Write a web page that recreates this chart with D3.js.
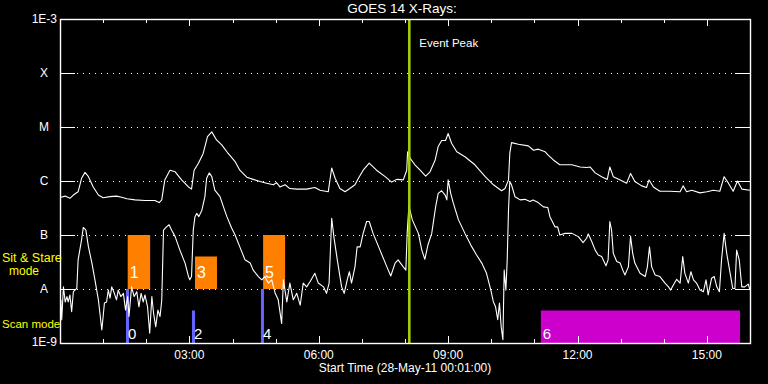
<!DOCTYPE html>
<html>
<head>
<meta charset="utf-8">
<script src="https://cdn.jsdelivr.net/npm/d3@7"></script>
<style>
  html, body { margin: 0; padding: 0; background: #000; }
  svg { display: block; }
  text { font-family: "Liberation Sans", Arial, sans-serif; fill: #fff; }
</style>
</head>
<body>
<div id="chart"></div>
<script>
// hours since 00:01 UT, log10 of flux (W/m^2)
var longHours = [0.02,0.12,0.23,0.31,0.42,0.50,0.58,0.66,0.77,0.89,1.00,1.16,1.31,1.43,1.55,1.74,1.97,2.20,2.30,2.36,2.43,2.55,2.67,2.82,2.98,3.05,3.11,3.21,3.32,3.42,3.52,3.63,3.75,3.90,4.06,4.17,4.33,4.48,4.64,4.79,4.95,5.02,5.10,5.22,5.33,5.49,5.72,5.91,6.03,6.22,6.30,6.38,6.49,6.61,6.72,6.84,6.92,7.03,7.17,7.34,7.54,7.69,7.81,7.96,8.04,8.06,8.12,8.23,8.35,8.48,8.58,8.70,8.77,8.85,8.94,9.00,9.08,9.20,9.39,9.62,9.86,10.05,10.24,10.32,10.40,10.43,10.47,10.63,10.86,10.98,11.09,11.25,11.32,11.44,11.59,11.87,12.06,12.21,12.29,12.41,12.56,12.69,12.75,12.83,12.99,13.14,13.23,13.33,13.49,13.60,13.66,13.76,13.91,14.14,14.38,14.45,14.53,14.65,14.84,15.00,15.15,15.30,15.40,15.50,15.61,15.71,15.81,16.00];
var longLogFlux = [-6.30,-6.28,-6.32,-6.26,-6.20,-5.95,-5.84,-5.92,-6.11,-6.26,-6.31,-6.29,-6.28,-6.30,-6.33,-6.35,-6.36,-6.36,-6.40,-6.35,-5.98,-5.80,-5.83,-5.98,-6.11,-6.15,-5.80,-5.67,-5.49,-5.18,-5.09,-5.24,-5.33,-5.49,-5.64,-5.80,-5.93,-5.97,-6.01,-6.04,-6.07,-6.03,-6.11,-6.07,-6.14,-6.15,-6.15,-6.12,-6.17,-6.20,-5.76,-5.95,-6.14,-6.20,-6.14,-6.07,-5.95,-5.80,-5.67,-5.80,-5.92,-6.02,-5.97,-5.98,-5.80,-5.46,-5.58,-5.70,-5.80,-5.91,-5.83,-5.61,-5.36,-5.25,-5.25,-5.12,-5.30,-5.46,-5.55,-5.70,-5.92,-6.07,-6.18,-6.14,-5.98,-5.49,-5.29,-5.32,-5.35,-5.43,-5.41,-5.46,-5.52,-5.61,-5.70,-5.70,-5.74,-5.75,-5.74,-5.85,-5.92,-5.97,-5.74,-5.92,-5.98,-6.04,-5.86,-6.01,-6.09,-6.12,-5.98,-6.11,-6.19,-6.19,-6.20,-6.09,-6.20,-6.17,-6.22,-6.20,-6.17,-6.19,-5.92,-6.04,-6.19,-6.00,-6.15,-6.17];

var shortHours = [0.02,0.04,0.08,0.12,0.16,0.19,0.23,0.27,0.31,0.39,0.42,0.50,0.54,0.60,0.66,0.74,0.81,0.89,0.97,1.03,1.08,1.12,1.16,1.20,1.26,1.31,1.35,1.41,1.47,1.52,1.57,1.60,1.66,1.72,1.78,1.83,1.88,1.93,1.97,2.03,2.08,2.13,2.17,2.22,2.27,2.32,2.36,2.40,2.47,2.53,2.59,2.67,2.78,2.90,2.98,3.01,3.05,3.09,3.13,3.17,3.22,3.29,3.36,3.40,3.46,3.52,3.59,3.71,3.79,3.87,3.98,4.06,4.17,4.29,4.41,4.48,4.60,4.68,4.75,4.83,4.91,4.99,5.06,5.14,5.18,5.26,5.33,5.41,5.49,5.57,5.64,5.72,5.80,5.91,5.99,6.11,6.18,6.24,6.30,6.35,6.43,6.53,6.59,6.66,6.71,6.76,6.84,6.89,6.96,7.03,7.11,7.17,7.26,7.42,7.58,7.67,7.77,7.84,7.96,8.02,8.05,8.09,8.17,8.31,8.39,8.46,8.53,8.62,8.71,8.77,8.85,8.93,8.97,9.00,9.06,9.12,9.24,9.39,9.55,9.66,9.78,9.89,9.99,10.05,10.10,10.15,10.19,10.23,10.27,10.30,10.34,10.37,10.40,10.43,10.47,10.55,10.67,10.78,10.90,10.97,11.09,11.21,11.31,11.36,11.48,11.54,11.59,11.71,11.87,12.02,12.13,12.21,12.25,12.33,12.41,12.48,12.56,12.66,12.71,12.75,12.79,12.83,12.91,12.99,13.05,13.10,13.18,13.23,13.28,13.33,13.45,13.57,13.62,13.67,13.72,13.80,13.91,14.03,14.11,14.16,14.22,14.30,14.38,14.44,14.49,14.57,14.63,14.69,14.76,14.84,14.92,14.98,15.03,15.11,15.17,15.23,15.29,15.34,15.40,15.46,15.54,15.60,15.65,15.69,15.75,15.81,15.88,15.96,16.00];
var shortLogFlux = [-8.20,-8.57,-7.96,-8.24,-8.14,-8.24,-8.11,-8.42,-8.05,-7.99,-7.46,-7.09,-6.86,-6.91,-7.22,-7.52,-7.83,-8.20,-8.76,-8.26,-8.24,-8.02,-8.17,-7.96,-8.08,-8.20,-8.02,-8.14,-8.08,-8.39,-8.14,-8.51,-7.96,-8.14,-8.05,-8.33,-8.08,-8.24,-8.11,-8.33,-8.82,-8.14,-8.45,-8.70,-8.39,-8.51,-8.20,-6.91,-6.85,-6.81,-6.91,-7.03,-7.28,-7.52,-7.77,-7.83,-7.77,-6.91,-6.66,-6.60,-6.66,-6.54,-6.29,-5.95,-5.85,-5.92,-6.17,-6.29,-6.48,-6.66,-6.87,-7.00,-7.22,-7.46,-7.52,-7.65,-7.77,-7.83,-7.77,-7.89,-7.83,-8.08,-8.20,-8.64,-7.83,-8.24,-7.89,-8.20,-8.08,-8.30,-7.89,-7.96,-7.86,-7.71,-7.89,-7.96,-8.08,-7.89,-6.69,-7.03,-7.46,-7.96,-8.08,-7.83,-7.68,-7.89,-7.59,-7.22,-7.22,-6.97,-6.75,-6.75,-6.97,-7.28,-7.59,-7.76,-7.52,-7.46,-7.59,-7.65,-6.97,-6.46,-6.72,-6.97,-7.28,-7.45,-7.19,-6.97,-6.48,-6.23,-6.18,-6.26,-6.35,-5.98,-6.23,-6.41,-6.72,-6.97,-7.22,-7.37,-7.52,-7.71,-8.02,-8.24,-8.33,-8.57,-8.26,-8.70,-8.94,-7.65,-8.02,-7.46,-6.54,-6.01,-6.07,-6.29,-6.35,-6.34,-6.38,-6.35,-6.40,-6.48,-6.49,-6.66,-6.85,-6.85,-7.00,-6.97,-6.97,-7.03,-7.14,-7.06,-6.98,-7.12,-7.28,-7.37,-7.40,-7.57,-7.46,-6.75,-6.91,-7.34,-7.49,-7.52,-7.65,-7.74,-7.59,-7.02,-7.34,-7.52,-7.71,-7.77,-7.59,-7.22,-7.59,-7.74,-7.77,-7.89,-7.96,-8.02,-7.93,-7.82,-7.89,-7.40,-7.71,-7.89,-7.68,-7.83,-7.89,-8.02,-8.05,-7.83,-8.11,-7.80,-7.77,-7.96,-8.05,-7.46,-6.97,-7.34,-7.71,-7.99,-7.99,-7.28,-7.46,-7.96,-7.96,-7.91,-8.02];

// observation blocks
var stareStart = [1.57, 3.13, 4.71];
var stareEnd   = [2.09, 3.64, 5.22];
var stareTop   = [1e-7, 4e-8, 1e-7];
var stareNames = ["1", "3", "5"];

var scanStart = [1.53, 3.06, 4.66, 11.15];
var scanEnd   = [1.60, 3.13, 4.73, 15.77];
var scanTop   = [1e-8, 4e-9, 1e-8, 4e-9];
var scanNames = ["0", "2", "4", "6"];

var eventPeak = 8.10;

var levelNames = ["X", "M", "C", "B", "A"];
var levelFlux  = [1e-4, 1e-5, 1e-6, 1e-7, 1e-8];
var tickHours  = [3, 6, 9, 12, 15];
var tickNames  = ["03:00", "06:00", "09:00", "12:00", "15:00"];

function drawChart(selector){

    var width = 768, height = 384;
    var plotLeft = 60, plotRight = 750, plotTop = 19, plotBottom = 343;

    var svg = d3.select(selector).append("svg")
        .attr("width", width)
        .attr("height", height)
        .style("background", "#000");

    var x = d3.scaleLinear().domain([0, 16]).range([plotLeft, plotRight]);
    var y = d3.scaleLog().domain([1e-9, 1e-3]).range([plotBottom, plotTop]);

    // dotted level lines with short solid ends
    var grid = svg.append("g");
    levelFlux.forEach(function(f){
        var yy = Math.round(y(f)) + 0.5;
        grid.append("line")
            .attr("x1", plotLeft + 17).attr("x2", plotRight - 15)
            .attr("y1", yy).attr("y2", yy)
            .attr("stroke", "#fff").attr("stroke-width", 1)
            .attr("stroke-dasharray", "1,5");
        grid.append("line")
            .attr("x1", plotLeft).attr("x2", plotLeft + 15)
            .attr("y1", yy).attr("y2", yy)
            .attr("stroke", "#fff");
        grid.append("line")
            .attr("x1", plotRight - 15).attr("x2", plotRight)
            .attr("y1", yy).attr("y2", yy)
            .attr("stroke", "#fff");
    });

    // sit & stare blocks
    svg.selectAll(".stare")
        .data(stareStart).enter().append("rect")
        .attr("class", "stare")
        .attr("x", function(d){ return x(d); })
        .attr("width", function(d, i){ return x(stareEnd[i]) - x(d); })
        .attr("y", function(d, i){ return y(stareTop[i]); })
        .attr("height", function(d, i){ return y(1e-8) - y(stareTop[i]); })
        .attr("fill", "#ff8000");

    // scan blocks
    var scanColor = d3.scaleOrdinal().domain(scanNames).range(["#6464ff", "#6464ff", "#6464ff", "#cc00cc"]);
    svg.selectAll(".scan")
        .data(scanStart).enter().append("rect")
        .attr("class", "scan")
        .attr("x", function(d){ return x(d); })
        .attr("width", function(d, i){ return x(scanEnd[i]) - x(d); })
        .attr("y", function(d, i){ return y(scanTop[i]); })
        .attr("height", function(d, i){ return y(1e-9) - y(scanTop[i]); })
        .attr("fill", function(d, i){ return scanColor(scanNames[i]); });

    // light curves
    var line = d3.line()
        .x(function(d){ return x(d[0]); })
        .y(function(d){ return y(Math.pow(10, d[1])); });

    var longData = longHours.map(function(h, i){ return [h, longLogFlux[i]]; });
    var shortData = shortHours.map(function(h, i){ return [h, shortLogFlux[i]]; });

    [longData, shortData].forEach(function(series){
        svg.append("path")
            .datum(series)
            .attr("d", line)
            .attr("fill", "none")
            .attr("stroke", "#fff")
            .attr("stroke-width", 1.1)
            .attr("stroke-linejoin", "round");
    });

    // block numbers
    svg.selectAll(".stareLabel")
        .data(stareStart).enter().append("text")
        .attr("x", function(d){ return x(d) + 2; })
        .attr("y", 278)
        .style("font-size", "16px")
        .text(function(d, i){ return stareNames[i]; });

    svg.selectAll(".scanLabel")
        .data(scanStart).enter().append("text")
        .attr("x", function(d){ return x(d) + 2; })
        .attr("y", 339)
        .style("font-size", "15px")
        .text(function(d, i){ return scanNames[i]; });

    // event peak marker
    svg.append("line")
        .attr("x1", x(eventPeak)).attr("x2", x(eventPeak))
        .attr("y1", plotTop).attr("y2", plotBottom)
        .attr("stroke", "#a8d400").attr("stroke-width", 2.5);
    svg.append("text")
        .attr("x", x(eventPeak) + 10).attr("y", 47)
        .style("font-size", "11.5px")
        .text("Event Peak");

    // frame
    svg.append("rect")
        .attr("x", plotLeft + 0.5).attr("y", plotTop + 0.5)
        .attr("width", plotRight - plotLeft).attr("height", plotBottom - plotTop)
        .attr("fill", "none").attr("stroke", "#fff").attr("stroke-width", 1.4);

    // hour ticks, top and bottom
    var hours = d3.range(1, 16);
    svg.selectAll(".tickTop")
        .data(hours).enter().append("line")
        .attr("x1", function(d){ return Math.round(x(d)) + 0.5; })
        .attr("x2", function(d){ return Math.round(x(d)) + 0.5; })
        .attr("y1", plotTop)
        .attr("y2", function(d){ return plotTop + (d % 3 === 0 ? 7 : 4); })
        .attr("stroke", "#fff");
    svg.selectAll(".tickBottom")
        .data(hours).enter().append("line")
        .attr("x1", function(d){ return Math.round(x(d)) + 0.5; })
        .attr("x2", function(d){ return Math.round(x(d)) + 0.5; })
        .attr("y1", plotBottom)
        .attr("y2", function(d){ return plotBottom - (d % 3 === 0 ? 7 : 4); })
        .attr("stroke", "#fff");

    svg.selectAll(".xLabel")
        .data(tickHours).enter().append("text")
        .attr("x", function(d){ return x(d); })
        .attr("y", 359)
        .attr("text-anchor", "middle")
        .style("font-size", "12px")
        .text(function(d, i){ return tickNames[i]; });

    svg.append("text")
        .attr("x", 405).attr("y", 372)
        .attr("text-anchor", "middle")
        .style("font-size", "12px")
        .text("Start Time (28-May-11 00:01:00)");

    // y labels
    svg.selectAll(".yLabel")
        .data(levelFlux).enter().append("text")
        .attr("x", 44)
        .attr("y", function(d){ return y(d) + 4; })
        .attr("text-anchor", "middle")
        .style("font-size", "12px")
        .text(function(d, i){ return levelNames[i]; });

    svg.append("text").attr("x", 57).attr("y", y(1e-3) + 4)
        .attr("text-anchor", "end").style("font-size", "12px").text("1E-3");
    svg.append("text").attr("x", 57).attr("y", y(1e-9) + 3)
        .attr("text-anchor", "end").style("font-size", "12px").text("1E-9");

    // mode labels
    svg.append("text").attr("x", 2).attr("y", 262)
        .style("font-size", "12.5px").style("fill", "#ffff00").text("Sit & Stare");
    svg.append("text").attr("x", 24).attr("y", 275)
        .attr("text-anchor", "middle")
        .style("font-size", "12px").style("fill", "#ffff00").text("mode");
    svg.append("text").attr("x", 2).attr("y", 328)
        .style("font-size", "11.5px").style("fill", "#ffff00").text("Scan mode");

    // title
    svg.append("text")
        .attr("x", 402).attr("y", 13)
        .attr("text-anchor", "middle")
        .style("font-size", "13.5px")
        .text("GOES 14 X-Rays:");
}

drawChart("#chart");
</script>
</body>
</html>
